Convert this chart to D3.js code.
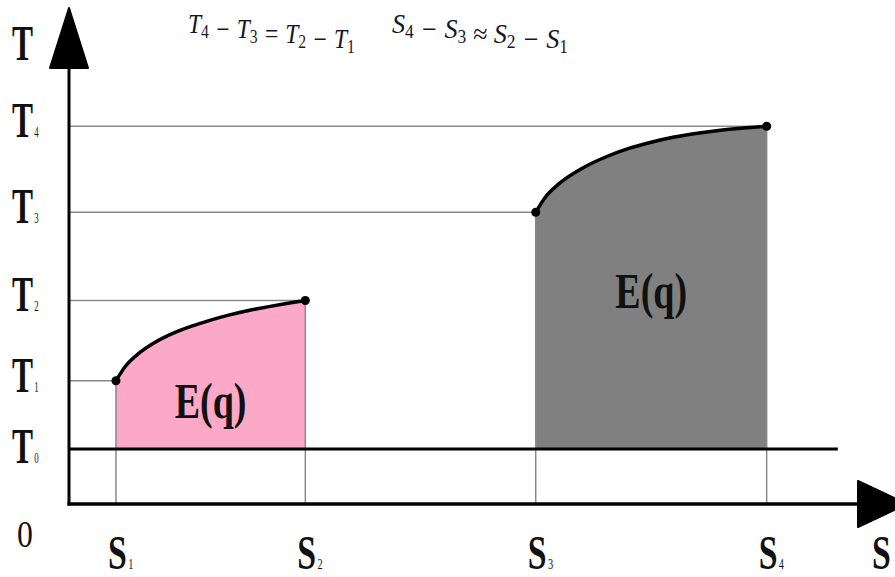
<!DOCTYPE html>
<html><head><meta charset="utf-8">
<script src="https://cdn.jsdelivr.net/npm/d3@7"></script>
<style>html,body{margin:0;padding:0;background:#fff;} svg{display:block;}</style>
</head><body><svg id="chart" width="895" height="577"></svg>
<script>
// Entropy levels S and temperature levels T (arbitrary units on a 0–100 frame)
const sNames = ["1", "2", "3", "4"];
const sValues = [5.70, 28.68, 56.64, 84.67];
const tNames = ["0", "1", "2", "3", "4"];
const tValues = [11.09, 24.86, 41.03, 58.81, 76.15];

// Heating curves T(S) for the low and high temperature intervals
const lowCurveS = [5.70, 6.85, 8.46, 10.30, 12.59, 14.89, 17.19, 19.49, 21.79, 24.08, 26.38, 28.68];
const lowCurveT = [24.86, 27.77, 30.36, 32.46, 34.40, 35.86, 37.07, 38.12, 39.01, 39.74, 40.42, 41.03];
const highCurveS = [56.64, 57.76, 59.44, 62.25, 65.05, 67.85, 70.66, 73.46, 76.26, 79.06, 81.87, 84.67];
const highCurveT = [58.81, 61.76, 64.53, 67.65, 69.91, 71.64, 72.94, 73.98, 74.76, 75.37, 75.80, 76.15];

const regionLabel = "E(q)";
const regionColors = ["#fba9c7", "#808080"];

const svg = d3.select("#chart");
const x = d3.scaleLinear().domain([0, 100]).range([69, 893]);
const y = d3.scaleLinear().domain([0, 100]).range([504, 8]);

const serif = "'Liberation Serif','Times New Roman',serif";
const gridColor = "#8a8a8a";

// shaded areas between the curve and the T0 baseline
const curves = [
  d3.zip(lowCurveS, lowCurveT),
  d3.zip(highCurveS, highCurveT)
];
const area = d3.area().x(d => x(d[0])).y0(y(tValues[0])).y1(d => y(d[1])).curve(d3.curveMonotoneX);
const line = d3.line().x(d => x(d[0])).y(d => y(d[1])).curve(d3.curveMonotoneX);

svg.selectAll("path.region").data(curves).join("path")
  .attr("class", "region")
  .attr("d", area)
  .attr("fill", (d, i) => regionColors[i]);

// guide lines from the axes to each curve endpoint
sValues.forEach((s, i) => {
  const t = tValues[i + 1];
  svg.append("line").attr("x1", x(0)).attr("x2", x(s)).attr("y1", y(t)).attr("y2", y(t))
    .attr("stroke", gridColor).attr("stroke-width", 1.5);
  svg.append("line").attr("x1", x(s)).attr("x2", x(s)).attr("y1", y(t)).attr("y2", y(0))
    .attr("stroke", gridColor).attr("stroke-width", 1.5);
});

// T0 baseline
svg.append("line").attr("x1", x(0)).attr("x2", x(93.3))
  .attr("y1", y(tValues[0])).attr("y2", y(tValues[0]))
  .attr("stroke", "#000").attr("stroke-width", 3);

// axes with arrow heads
svg.append("line").attr("x1", x(0)).attr("x2", x(0)).attr("y1", y(0) + 1.5).attr("y2", y(100) + 55)
  .attr("stroke", "#000").attr("stroke-width", 3);
svg.append("line").attr("x1", x(0) - 1.5).attr("x2", 860).attr("y1", y(0)).attr("y2", y(0))
  .attr("stroke", "#000").attr("stroke-width", 3.5);
svg.append("path")
  .attr("d", `M${x(0)},${y(100)} L${x(0) + 19},${y(100) + 60} L${x(0) - 19},${y(100) + 60} Z`)
  .attr("fill", "#000").attr("stroke", "#000").attr("stroke-width", 2).attr("stroke-linejoin", "round");
svg.append("path")
  .attr("d", `M907,${y(0)} L858,${y(0) - 23} L858,${y(0) + 23} Z`)
  .attr("fill", "#000").attr("stroke", "#000").attr("stroke-width", 2).attr("stroke-linejoin", "round");

// curves and endpoint markers
svg.selectAll("path.curve").data(curves).join("path")
  .attr("class", "curve").attr("d", line)
  .attr("fill", "none").attr("stroke", "#000").attr("stroke-width", 3.5)
  .attr("stroke-linecap", "round");
const ends = curves.flatMap(c => [c[0], c[c.length - 1]]);
svg.selectAll("circle.end").data(ends).join("circle")
  .attr("class", "end")
  .attr("cx", d => x(d[0])).attr("cy", d => y(d[1])).attr("r", 4.5).attr("fill", "#000");

// label with a small subscript, horizontally condensed
function subLabel(px, py, main, sub, size, subSize, sx, weight) {
  const g = svg.append("g").attr("transform", `translate(${px},${py}) scale(${sx},1)`);
  const t = g.append("text").attr("font-family", serif).attr("font-weight", weight || "bold")
    .attr("font-size", size).attr("fill", "#111");
  t.append("tspan").text(main);
  if (sub) t.append("tspan").attr("font-size", subSize).attr("font-weight", "normal").attr("dx", 2).text(sub);
  return g;
}

// temperature labels
subLabel(12, 60, "T", null, 50, 0, 0.63);
tNames.forEach((n, i) => subLabel(12, y(tValues[i]) + (i === 0 ? 14 : 11), "T", n, 50, 14, 0.63));
// entropy labels
sNames.forEach((n, i) => subLabel(x(sValues[i]) - 8, 569, "S", n, 49, 15, 0.69));
subLabel(872, 569, "S", null, 49, 0, 0.69);
subLabel(17, 547, "0", null, 37, 0, 0.86, "normal");

// E(q) labels centred over each region
[[lowCurveS, 17.3], [highCurveS, 39.5]].forEach(([s, tl]) => {
  const cx = (x(s[0]) + x(s[s.length - 1])) / 2;
  const g = svg.append("g").attr("transform", `translate(${cx},${y(tl)}) scale(0.76,1)`);
  g.append("text").attr("text-anchor", "middle").attr("font-family", serif)
    .attr("font-weight", "bold").attr("font-size", 50).attr("fill", "#111").text(regionLabel);
});

// relations between the intervals
function formula(px, py, tokens, width) {
  const g = svg.append("g");
  const t = g.append("text").attr("font-family", serif).attr("font-style", "italic")
    .attr("font-size", 27).attr("fill", "#15152a");
  tokens.forEach(([txt, isSub]) => {
    if (isSub) {
      t.append("tspan").attr("font-size", 18).attr("font-style", "normal").attr("dy", 5).text(txt);
      t.append("tspan").attr("dy", -5).text("");
    } else {
      t.append("tspan").text(txt);
    }
  });
  const w = t.node().getComputedTextLength();
  g.attr("transform", `translate(${px},${py}) scale(${width / w},1)`);
}
formula(188, 33, [["T"], ["4", 1], [" − T"], ["3", 1], [" = T"], ["2", 1], [" − T"], ["1", 1]], 167);
formula(392, 33, [["S"], ["4", 1], [" − S"], ["3", 1], [" ≈ S"], ["2", 1], [" − S"], ["1", 1]], 176);
</script></body></html>
